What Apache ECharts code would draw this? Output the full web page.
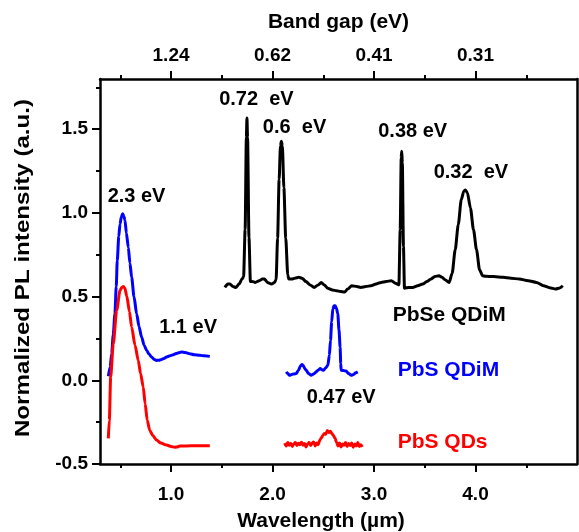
<!DOCTYPE html>
<html>
<head>
<meta charset="utf-8">
<script src="https://cdn.jsdelivr.net/npm/echarts@6/dist/echarts.min.js"></script>
<style>
  html, body { margin: 0; padding: 0; background: #fff; }
  #chart { width: 579px; height: 532px; }
</style>
</head>
<body>
<div id="chart"></div>
<script>
// Axis ticks and labels
const wavelengthTicks = [1, 2, 3, 4];
const wavelengthMinorTicks = [0.5, 1.5, 2.5, 3.5, 4.5];
const bandGapLabels = ['1.24', '0.62', '0.41', '0.31'];
const intensityTicks = [-0.5, 0, 0.5, 1.0, 1.5];
const intensityMinorTicks = [-0.25, 0.25, 0.75, 1.25, 1.75];

// PbSe QDiM photoluminescence, [wavelength (µm), normalized intensity]
const pbseQdim = [
  [1.53,0.555],[1.56,0.575],[1.58,0.575],[1.61,0.56],[1.64,0.555],[1.67,0.575],[1.70,0.605],
  [1.715,0.62],[1.73,0.9],[1.742,1.45],[1.748,1.567],[1.754,1.45],[1.768,0.85],[1.782,0.59],
  [1.80,0.59],[1.83,0.585],[1.87,0.595],[1.90,0.605],[1.92,0.605],[1.95,0.585],[1.99,0.575],[2.02,0.585],
  [2.035,0.6],[2.05,0.85],[2.065,1.2],[2.078,1.40],[2.087,1.428],[2.097,1.40],[2.112,1.15],[2.13,0.85],[2.15,0.63],
  [2.16,0.605],[2.19,0.605],[2.22,0.61],[2.26,0.615],[2.29,0.61],[2.33,0.59],[2.37,0.57],[2.41,0.555],
  [2.45,0.57],[2.48,0.585],[2.51,0.57],[2.545,0.55],[2.59,0.54],[2.63,0.535],[2.67,0.53],[2.71,0.527],
  [2.74,0.545],[2.78,0.565],[2.83,0.56],[2.87,0.555],[2.92,0.56],[2.97,0.565],[3.02,0.575],[3.07,0.585],
  [3.12,0.59],[3.17,0.595],[3.21,0.58],[3.245,0.57],
  [3.258,0.9],[3.268,1.33],[3.273,1.369],[3.279,1.3],[3.29,0.8],[3.30,0.55],
  [3.34,0.555],[3.38,0.555],[3.43,0.565],[3.48,0.575],[3.52,0.59],[3.56,0.605],[3.60,0.62],[3.64,0.625],
  [3.67,0.615],[3.70,0.6],[3.74,0.585],[3.77,0.64],[3.80,0.78],[3.83,0.93],[3.86,1.08],[3.885,1.13],
  [3.90,1.137],[3.92,1.12],[3.95,1.03],[3.98,0.9],[4.01,0.78],[4.04,0.66],[4.07,0.625],[4.10,0.621],
  [4.18,0.62],[4.27,0.615],[4.35,0.61],[4.43,0.605],[4.52,0.595],[4.60,0.585],[4.67,0.565],[4.73,0.553],
  [4.79,0.545],[4.83,0.552],[4.86,0.565]
];

// PbS QDiM, visible/near-IR band
const pbsQdimNear = [
  [0.382,0.024],[0.40,0.08],[0.415,0.159],[0.43,0.27],[0.447,0.397],[0.46,0.56],[0.47,0.714],
  [0.485,0.86],[0.497,0.933],[0.51,0.975],[0.523,0.995],[0.535,0.98],[0.546,0.956],[0.56,0.88],
  [0.579,0.794],[0.595,0.70],[0.612,0.615],[0.635,0.50],[0.661,0.397],[0.685,0.32],[0.71,0.258],
  [0.735,0.21],[0.759,0.179],[0.785,0.155],[0.808,0.139],[0.835,0.125],[0.857,0.119],[0.88,0.12],
  [0.906,0.125],[0.93,0.13],[0.956,0.139],[0.99,0.146],[1.021,0.153],[1.06,0.162],[1.103,0.169],
  [1.14,0.166],[1.185,0.159],[1.23,0.153],[1.283,0.149],[1.33,0.146],[1.382,0.143]
];

// PbS QDiM, mid-IR band
const pbsQdimMid = [
  [2.135,0.05],[2.15,0.04],[2.168,0.03],[2.19,0.035],[2.21,0.038],[2.234,0.04],[2.255,0.06],
  [2.275,0.085],[2.289,0.095],[2.305,0.085],[2.32,0.068],[2.332,0.06],[2.355,0.04],[2.381,0.03],
  [2.405,0.038],[2.43,0.05],[2.45,0.062],[2.47,0.07],[2.487,0.063],[2.503,0.06],[2.525,0.075],
  [2.545,0.09],[2.56,0.15],[2.571,0.238],[2.583,0.35],[2.594,0.427],[2.605,0.445],[2.617,0.446],
  [2.63,0.43],[2.643,0.397],[2.655,0.3],[2.666,0.198],[2.672,0.1],[2.676,0.06],[2.70,0.058],
  [2.725,0.055],[2.75,0.04],[2.775,0.03],[2.80,0.035],[2.82,0.045],[2.84,0.05]
];

// PbS QDs, visible/near-IR band
const pbsQdsNear = [
  [0.382,-0.347],[0.392,-0.238],[0.405,0.02],[0.431,0.218],[0.464,0.417],[0.497,0.536],[0.515,0.556],
  [0.529,0.56],[0.545,0.55],[0.565,0.5],[0.59,0.41],[0.612,0.317],[0.645,0.21],[0.677,0.119],
  [0.70,0.04],[0.726,-0.04],[0.745,-0.14],[0.765,-0.238],[0.79,-0.298],[0.82,-0.33],[0.857,-0.357],
  [0.9,-0.375],[0.956,-0.387],[1.0,-0.395],[1.037,-0.40],[1.06,-0.398],[1.087,-0.393],[1.15,-0.392],
  [1.25,-0.391],[1.382,-0.391]
];

// PbS QDs, mid-IR band
const pbsQdsMid = [
  [2.12,-0.375],[2.135,-0.392],[2.15,-0.372],[2.165,-0.388],[2.18,-0.378],[2.195,-0.395],[2.21,-0.380],
  [2.225,-0.372],[2.24,-0.390],[2.255,-0.376],[2.27,-0.385],[2.285,-0.370],[2.30,-0.388],[2.315,-0.378],
  [2.33,-0.398],[2.345,-0.380],[2.36,-0.372],[2.375,-0.390],[2.39,-0.376],[2.405,-0.368],[2.42,-0.392],
  [2.435,-0.374],[2.45,-0.385],[2.465,-0.358],[2.48,-0.345],[2.495,-0.330],[2.51,-0.318],[2.525,-0.322],
  [2.54,-0.300],[2.555,-0.312],[2.57,-0.305],[2.585,-0.318],[2.60,-0.330],[2.615,-0.345],[2.63,-0.370],
  [2.645,-0.392],[2.66,-0.375],[2.675,-0.398],[2.69,-0.380],[2.705,-0.388],[2.72,-0.372],[2.735,-0.395],
  [2.75,-0.378],[2.765,-0.390],[2.78,-0.375],[2.795,-0.400],[2.81,-0.380],[2.825,-0.392],[2.84,-0.372],
  [2.855,-0.395],[2.87,-0.385],[2.885,-0.398]
];

// Peak and sample annotations: [wavelength, intensity, text, colour, align, font size]
const annotations = [
  [0.66, 1.10, '2.3 eV', '#000000', 'center', 20],
  [1.168, 0.317, '1.1 eV', '#000000', 'center', 20],
  [1.841, 1.677, '0.72  eV', '#000000', 'center', 20],
  [2.217, 1.508, '0.6  eV', '#000000', 'center', 20],
  [3.381, 1.488, '0.38 eV', '#000000', 'center', 20],
  [3.955, 1.24, '0.32  eV', '#000000', 'center', 20],
  [3.741, 0.387, 'PbSe QDiM', '#000000', 'center', 21],
  [3.233, 0.06, 'PbS QDiM', '#0000ff', 'left', 21],
  [2.676, -0.10, '0.47 eV', '#000000', 'center', 20],
  [3.233, -0.369, 'PbS QDs', '#ff0000', 'left', 21]
];

const FONT = 'Liberation Sans, Arial, sans-serif';
const BLACK = '#000000';
const X_MIN = 0.3, X_MAX = 5.0, Y_MIN = -0.5, Y_MAX = 1.8;

function xAxisPart(position, major, opts) {
  return Object.assign({
    type: 'value', position: position, min: X_MIN, max: X_MAX,
    splitLine: { show: false },
    axisLine: { show: major, onZero: false, lineStyle: { color: BLACK, width: 2.5 } },
    axisTick: {
      show: true, inside: false,
      customValues: major ? wavelengthTicks : wavelengthMinorTicks,
      length: major ? 8 : 4,
      lineStyle: { color: BLACK, width: 2 }
    },
    axisLabel: { show: false }
  }, opts || {});
}

function yAxisPart(major, opts) {
  return Object.assign({
    type: 'value', position: 'left', min: Y_MIN, max: Y_MAX,
    splitLine: { show: false },
    axisLine: { show: major, onZero: false, lineStyle: { color: BLACK, width: 2.5 } },
    axisTick: {
      show: true, inside: false,
      customValues: major ? intensityTicks : intensityMinorTicks,
      length: major ? 8 : 4,
      lineStyle: { color: BLACK, width: 2 }
    },
    axisLabel: { show: false }
  }, opts || {});
}

const tickLabelStyle = { color: BLACK, fontFamily: FONT, fontWeight: 'bold', fontSize: 19 };
const titleStyle = { color: BLACK, fontFamily: FONT, fontWeight: 'bold', fontSize: 21 };

const lineSeries = (data, color) => ({
  type: 'line', data: data, xAxisIndex: 0, yAxisIndex: 0,
  showSymbol: false, symbol: 'none', smooth: 0.25, smoothMonotone: 'x',
  lineStyle: { color: color, width: 3 }, silent: true
});

const chart = echarts.init(document.getElementById('chart'), null, { renderer: 'canvas' });
chart.setOption({
  animation: false,
  backgroundColor: '#fff',
  grid: { left: 100, right: 2, top: 79, bottom: 68, containLabel: false },
  xAxis: [
    xAxisPart('bottom', true, {
      axisLabel: {
        show: true, customValues: wavelengthTicks, margin: 21,
        formatter: v => v.toFixed(1), ...tickLabelStyle
      }
    }),
    xAxisPart('bottom', false),
    xAxisPart('top', true, {
      name: 'Band gap (eV)', nameLocation: 'middle', nameGap: 46, nameTextStyle: titleStyle,
      axisLabel: {
        show: true, customValues: wavelengthTicks, margin: 14,
        formatter: v => bandGapLabels[wavelengthTicks.indexOf(v)], ...tickLabelStyle
      }
    }),
    xAxisPart('top', false)
  ],
  yAxis: [
    yAxisPart(true, {
      axisLabel: {
        show: true, customValues: intensityTicks, margin: 12,
        formatter: v => v.toFixed(1), ...tickLabelStyle
      }
    }),
    yAxisPart(false),
    {
      type: 'value', position: 'right', min: Y_MIN, max: Y_MAX,
      splitLine: { show: false }, axisTick: { show: false }, axisLabel: { show: false },
      axisLine: { show: true, onZero: false, lineStyle: { color: BLACK, width: 2.5 } }
    }
  ],
  series: [
    lineSeries(pbseQdim, '#000000'),
    lineSeries(pbsQdimNear, '#0000ff'),
    lineSeries(pbsQdimMid, '#0000ff'),
    lineSeries(pbsQdsNear, '#ff0000'),
    lineSeries(pbsQdsMid, '#ff0000')
  ]
});

// Annotation texts placed at data coordinates through the grid's scales.
const graphics = annotations.map(a => {
  const p = chart.convertToPixel({ xAxisIndex: 0, yAxisIndex: 0 }, [a[0], a[1]]);
  return {
    type: 'text', x: p[0], y: p[1], silent: true,
    style: {
      text: a[2], fill: a[3], align: a[4], verticalAlign: 'middle',
      font: 'bold ' + a[5] + 'px ' + FONT
    }
  };
});
// Axis titles: wavelength sits a little left of the plot centre,
// the intensity title runs vertically and is drawn slightly elongated.
graphics.push({
  type: 'text', x: 321, y: 521, silent: true,
  style: {
    text: 'Wavelength (µm)', fill: BLACK, align: 'center', verticalAlign: 'middle',
    font: 'bold 21px ' + FONT
  }
});
graphics.push({
  type: 'text', x: 23, y: 268, rotation: Math.PI / 2, scaleX: 1.15, silent: true,
  style: {
    text: 'Normalized PL intensity (a.u.)', fill: BLACK, align: 'center', verticalAlign: 'middle',
    font: 'bold 21px ' + FONT
  }
});
chart.setOption({ graphic: graphics });
</script>
</body>
</html>
